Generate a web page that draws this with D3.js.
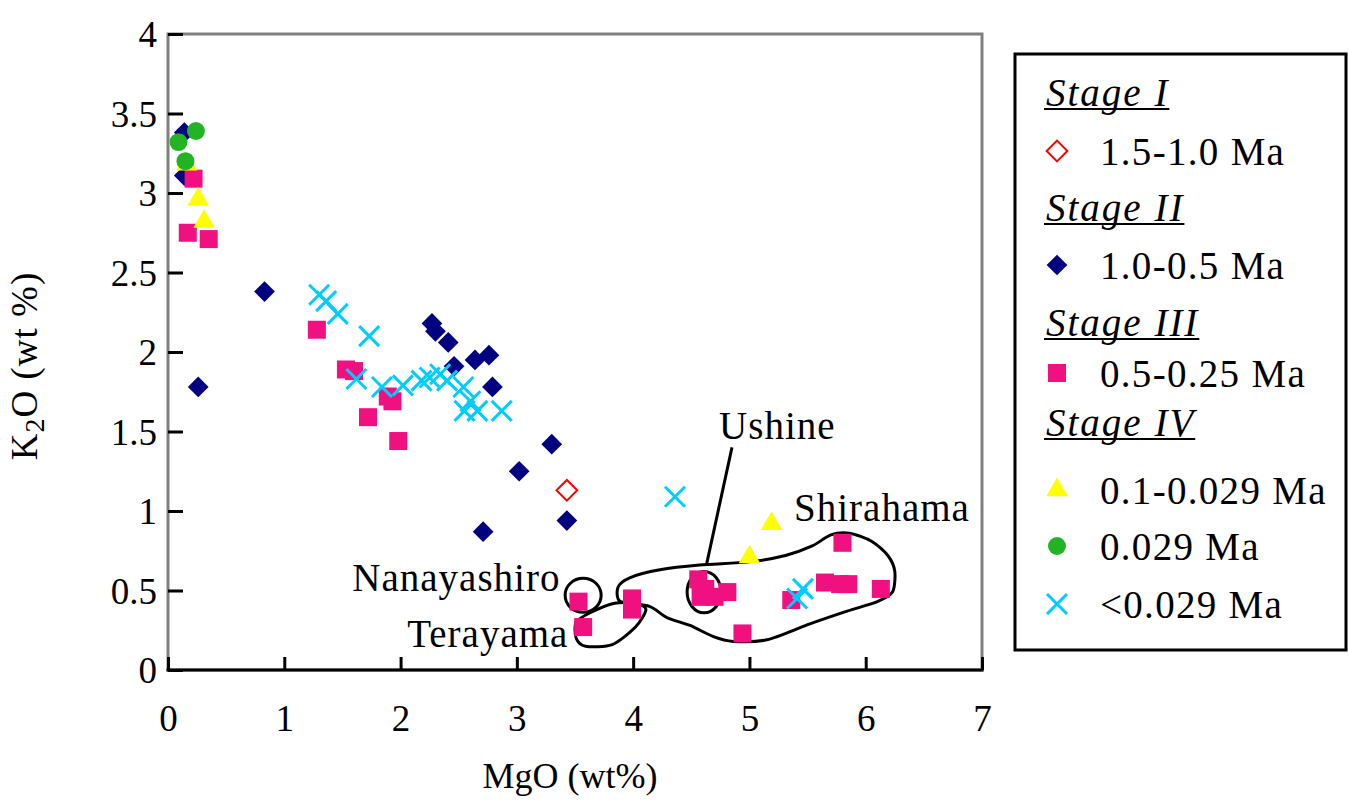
<!DOCTYPE html>
<html>
<head>
<meta charset="utf-8">
<script src="https://cdn.jsdelivr.net/npm/d3@7"></script>
<style>
body { margin: 0; background: #fff; }
text { font-family: "Liberation Serif", "Times New Roman", serif; fill: #000; }
</style>
</head>
<body>
<div id="chart"></div>
<script>
// MgO, K2O (wt%)
var stage1 = [[3.43, 1.13]];
var stage2 = [[0.14, 3.38], [0.14, 3.11], [0.83, 2.38], [0.26, 1.78], [2.27, 2.18], [2.30, 2.13],
  [2.41, 2.06], [2.46, 1.91], [2.64, 1.95], [2.76, 1.98], [2.79, 1.78], [3.30, 1.42],
  [3.02, 1.25], [3.43, 0.94], [2.71, 0.87]];
var stage3 = [[0.22, 3.09], [0.17, 2.75], [0.35, 2.71], [1.28, 2.14], [1.53, 1.89], [1.60, 1.88],
  [1.89, 1.72], [1.93, 1.69], [1.72, 1.59], [1.98, 1.44], [3.53, 0.43], [3.57, 0.27],
  [3.99, 0.45], [3.99, 0.38], [4.56, 0.57], [4.62, 0.51], [4.58, 0.46], [4.70, 0.46],
  [4.81, 0.49], [4.94, 0.23], [5.36, 0.44], [5.80, 0.80], [5.65, 0.55], [5.78, 0.54],
  [5.85, 0.54], [6.13, 0.51]];
var stage4a = [[0.16, 3.18], [0.26, 2.96], [0.31, 2.82], [5.00, 0.71], [5.19, 0.92]];
var stage4b = [[0.24, 3.39], [0.09, 3.32], [0.15, 3.20]];
var stage4c = [[1.30, 2.36], [1.36, 2.32], [1.46, 2.24], [1.73, 2.10], [1.62, 1.83], [1.84, 1.78],
  [2.02, 1.79], [2.18, 1.82], [2.25, 1.84], [2.34, 1.86], [2.40, 1.82], [2.54, 1.78],
  [2.55, 1.63], [2.66, 1.63], [2.60, 1.69], [2.87, 1.63], [4.36, 1.09], [5.41, 0.45],
  [5.46, 0.51]];

var xTicks = [0, 1, 2, 3, 4, 5, 6, 7];
var yTicks = [0, 0.5, 1, 1.5, 2, 2.5, 3, 3.5, 4];

// hand drawn envelopes (data units)
var envelopeBig = [[3.89, 0.43], [3.87, 0.52], [3.97, 0.58], [4.23, 0.63], [4.57, 0.66], [5.00, 0.68],
  [5.31, 0.72], [5.54, 0.78], [5.70, 0.85], [5.86, 0.86], [6.05, 0.81], [6.19, 0.72],
  [6.25, 0.62], [6.23, 0.49], [6.10, 0.43], [5.84, 0.37], [5.52, 0.29], [5.15, 0.19],
  [4.86, 0.18], [4.69, 0.21], [4.49, 0.28], [4.29, 0.33], [4.14, 0.40]];
var envelopeTerayama = [[3.63, 0.36], [3.51, 0.30], [3.51, 0.20], [3.59, 0.15], [3.82, 0.16],
  [4.02, 0.27], [4.11, 0.38], [4.02, 0.42], [3.84, 0.42]];
var ellipses = [{cx: 3.57, cy: 0.47, rx: 0.155, ry: 0.107}, {cx: 4.61, cy: 0.49, rx: 0.146, ry: 0.13}];
var ushineLine = [[4.85, 1.40], [4.63, 0.66]];
var labels = [
  {t: "Ushine", x: 5.24, y: 1.54},
  {t: "Shirahama", x: 6.14, y: 1.02},
  {t: "Nanayashiro", x: 2.48, y: 0.58},
  {t: "Terayama", x: 2.75, y: 0.23}
];

var width = 1348, height = 802;
var svg = d3.select("#chart").append("svg")
  .attr("width", width)
  .attr("height", height);

var x = d3.scaleLinear().domain([0, 7]).range([168, 982]);
var y = d3.scaleLinear().domain([0, 4]).range([670, 34]);

// plot frame
svg.append("rect")
  .attr("x", x(0)).attr("y", y(4))
  .attr("width", x(7) - x(0)).attr("height", y(0) - y(4))
  .attr("fill", "none").attr("stroke", "#808080").attr("stroke-width", 3);

var yAxis = svg.append("g")
  .attr("transform", "translate(" + x(0) + ",0)")
  .call(d3.axisLeft(y).tickValues(yTicks).tickSize(-15).tickPadding(11)
    .tickFormat(function(d) { return String(d); }));
yAxis.select(".domain").remove();
yAxis.selectAll("line").attr("stroke", "#000").attr("stroke-width", 3);
yAxis.selectAll("text").style("font-size", "37px").attr("dy", "0.34em");

var xAxis = svg.append("g")
  .attr("transform", "translate(0," + y(0) + ")")
  .call(d3.axisBottom(x).tickValues(xTicks).tickSize(-13).tickPadding(54)
    .tickFormat(function(d) { return String(d); }));
xAxis.select(".domain").remove();
xAxis.selectAll("line").attr("stroke", "#000").attr("stroke-width", 3);
xAxis.selectAll("text").style("font-size", "37px").attr("dy", "0.2em");

svg.append("line")
  .attr("x1", x(0) - 1.5).attr("x2", x(7) + 1.5)
  .attr("y1", y(0)).attr("y2", y(0))
  .attr("stroke", "#000").attr("stroke-width", 3);

// axis titles
svg.append("text")
  .attr("x", 570).attr("y", 788)
  .attr("text-anchor", "middle")
  .style("font-size", "36px")
  .text("MgO (wt%)");

var yt = svg.append("text")
  .attr("transform", "translate(37,366) rotate(-90)")
  .attr("text-anchor", "middle")
  .style("font-size", "37px")
  .style("letter-spacing", "1px");
yt.append("tspan").text("K");
yt.append("tspan").attr("dy", 7).style("font-size", "28px").text("2");
yt.append("tspan").attr("dy", -7).text("O (wt %)");

// envelopes
var envelopePath = d3.line()
  .x(function(d) { return x(d[0]); })
  .y(function(d) { return y(d[1]); })
  .curve(d3.curveCardinalClosed.tension(0.2));

svg.append("g").selectAll("path")
  .data([envelopeBig, envelopeTerayama])
  .enter().append("path")
  .attr("d", function(d) { return envelopePath(d); })
  .attr("fill", "none").attr("stroke", "#000").attr("stroke-width", 3);

svg.append("g").selectAll("ellipse")
  .data(ellipses)
  .enter().append("ellipse")
  .attr("cx", function(d) { return x(d.cx); })
  .attr("cy", function(d) { return y(d.cy); })
  .attr("rx", function(d) { return x(d.cx + d.rx) - x(d.cx); })
  .attr("ry", function(d) { return y(d.cy) - y(d.cy + d.ry); })
  .attr("fill", "none").attr("stroke", "#000").attr("stroke-width", 3);

svg.append("line")
  .attr("x1", x(ushineLine[0][0])).attr("y1", y(ushineLine[0][1]))
  .attr("x2", x(ushineLine[1][0])).attr("y2", y(ushineLine[1][1]))
  .attr("stroke", "#000").attr("stroke-width", 3);

svg.append("g").selectAll("text")
  .data(labels)
  .enter().append("text")
  .attr("x", function(d) { return x(d.x); })
  .attr("y", function(d) { return y(d.y); })
  .attr("dy", "0.35em")
  .attr("text-anchor", "middle")
  .style("font-size", "39px")
  .style("letter-spacing", "1px")
  .text(function(d) { return d.t; });

// marker styles
var diamond = d3.symbol().type(d3.symbolSquare).size(215);
var square = d3.symbol().type(d3.symbolSquare).size(324);
var triangle = d3.symbol().type(d3.symbolTriangle).size(200);
var circle = d3.symbol().type(d3.symbolCircle).size(254);
var cross = d3.symbol().type(d3.symbolTimes).size(263);

var series = [
  {data: stage1, path: diamond, rot: 45, fill: "#fff", stroke: "#ff0000", sw: 2},
  {data: stage2, path: diamond, rot: 45, fill: "#000080", stroke: "none", sw: 0},
  {data: stage3, path: square, rot: 0, fill: "#f0107f", stroke: "none", sw: 0},
  {data: stage4a, path: triangle, rot: 0, fill: "#ffff00", stroke: "none", sw: 0},
  {data: stage4b, path: circle, rot: 0, fill: "#22b422", stroke: "none", sw: 0},
  {data: stage4c, path: cross, rot: 0, fill: "none", stroke: "#00ccff", sw: 3}
];

series.forEach(function(s) {
  svg.append("g").selectAll("path")
    .data(s.data)
    .enter().append("path")
    .attr("d", s.path())
    .attr("transform", function(d) {
      return "translate(" + x(d[0]) + "," + y(d[1]) + ") rotate(" + s.rot + ")";
    })
    .attr("fill", s.fill)
    .attr("stroke", s.stroke)
    .attr("stroke-width", s.sw);
});

// legend
var legendRows = [
  {stage: "Stage I", y: 92},
  {s: 0, label: "1.5-1.0 Ma", y: 151},
  {stage: "Stage II", y: 207},
  {s: 1, label: "1.0-0.5 Ma", y: 265},
  {stage: "Stage III", y: 322},
  {s: 2, label: "0.5-0.25 Ma", y: 373},
  {stage: "Stage IV", y: 422},
  {s: 3, label: "0.1-0.029 Ma", y: 490},
  {s: 4, label: "0.029 Ma", y: 546},
  {s: 5, label: "<0.029 Ma", y: 604}
];

var legend = svg.append("g");
legend.append("rect")
  .attr("x", 1015).attr("y", 54)
  .attr("width", 331).attr("height", 596)
  .attr("fill", "#fff").attr("stroke", "#000").attr("stroke-width", 3);

legendRows.forEach(function(r) {
  if (r.stage) {
    var t = legend.append("text")
      .attr("x", 1046).attr("y", r.y).attr("dy", "0.35em")
      .style("font-size", "39px").style("font-style", "italic")
      .style("letter-spacing", "2px")
      .text(r.stage);
    var w = t.node().getComputedTextLength();
    legend.append("line")
      .attr("x1", 1044).attr("x2", 1046 + w)
      .attr("y1", r.y + 17).attr("y2", r.y + 17)
      .attr("stroke", "#000").attr("stroke-width", 2);
  } else {
    var s = series[r.s];
    legend.append("path")
      .attr("d", s.path())
      .attr("transform", "translate(1057," + r.y + ") rotate(" + s.rot + ")")
      .attr("fill", s.fill).attr("stroke", s.stroke).attr("stroke-width", s.sw);
    legend.append("text")
      .attr("x", 1100).attr("y", r.y).attr("dy", "0.35em")
      .style("font-size", "39px")
      .style("letter-spacing", "1.3px")
      .text(r.label);
  }
});
</script>
</body>
</html>
